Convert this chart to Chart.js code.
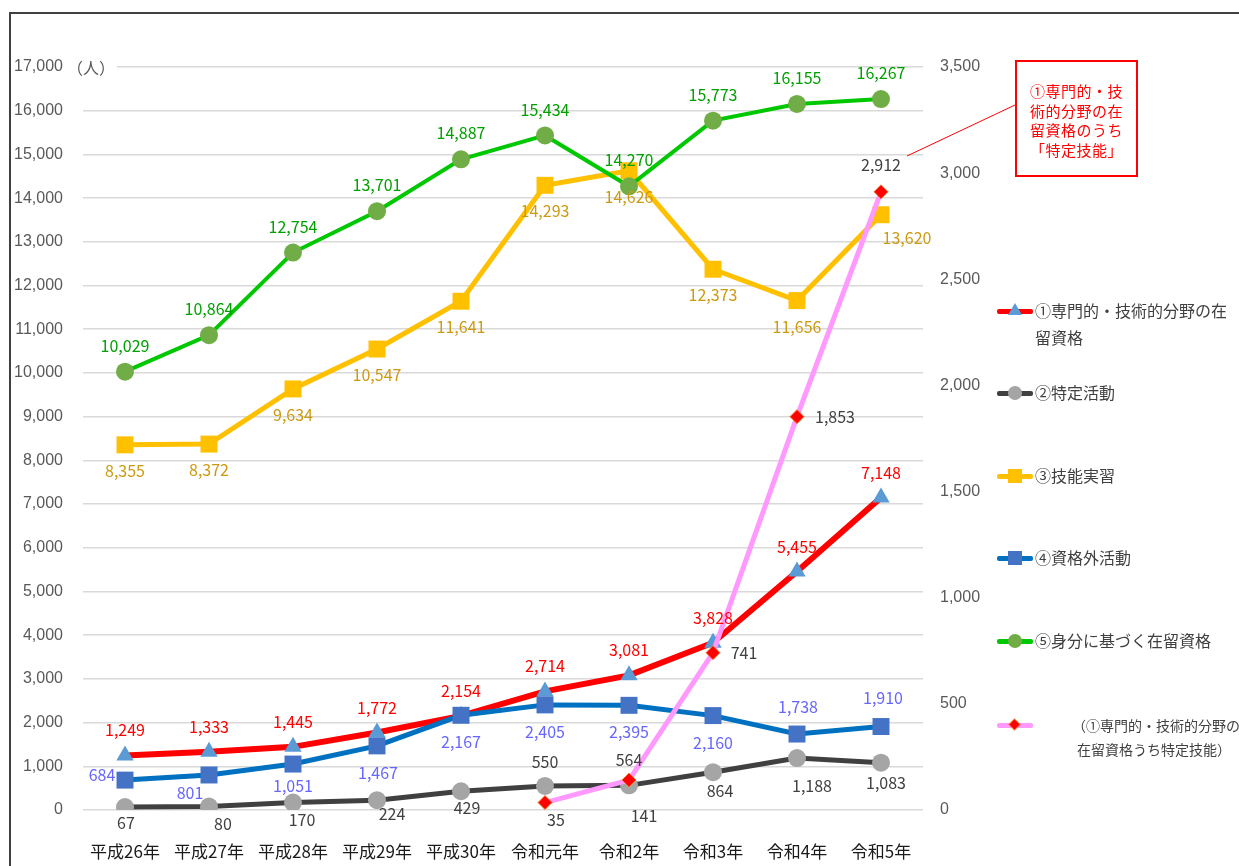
<!DOCTYPE html>
<html><head><meta charset="utf-8">
<script src="https://cdn.jsdelivr.net/npm/chart.js@4"></script>
<style>
html,body{margin:0;padding:0;background:#fff;}
#wrap{position:relative;width:1239px;height:866px;overflow:hidden;background:#fff;}
#frame{position:absolute;left:9px;top:12px;width:1300px;height:900px;border-left:2px solid #404040;border-top:2px solid #404040;}
#c{position:absolute;left:0;top:0;}
#unit{position:absolute;left:67px;top:56px;font:16px "Noto Sans CJK JP";color:#595959;background:#fff;line-height:22px;padding-right:2px;}
.leg{position:absolute;left:997px;font:16px "Noto Sans CJK JP";color:#404040;}
.leg .sw{position:absolute;left:0;width:36px;height:5px;border-radius:2px;}
.leg .mk{position:absolute;}
.leg .tx{position:absolute;left:38px;white-space:pre;line-height:27px;letter-spacing:0px;}
#note{position:absolute;left:1015px;top:60px;width:119px;height:113px;border:2px solid #FF0000;color:#FF0000;font:15px "Noto Sans CJK JP";text-align:center;line-height:19.5px;box-sizing:content-box;}
#note div{padding-top:19px;white-space:pre;letter-spacing:0.5px;}
svg{position:absolute;left:0;top:0;}
</style></head>
<body><div id="wrap">
<div id="frame"></div>
<canvas id="c" width="1239" height="866"></canvas>
<div id="unit">（人）</div>
<svg width="1239" height="866"><line x1="1015" y1="105" x2="907" y2="156" stroke="#FF0000" stroke-width="1"/></svg>
<div id="note"><div id="noteText"></div></div>
<div id="legend"></div>
</div>
<script>
// ---- data ----
const categories = ['平成26年','平成27年','平成28年','平成29年','平成30年','令和元年','令和2年','令和3年','令和4年','令和5年'];
const seriesNames = ['①専門的・技術的分野の在留資格','②特定活動','③技能実習','④資格外活動','⑤身分に基づく在留資格','（①専門的・技術的分野の在留資格うち特定技能）'];
const senmon = [1249,1333,1445,1772,2154,2714,3081,3828,5455,7148];
const tokutei = [67,80,170,224,429,550,564,864,1188,1083];
const ginou = [8355,8372,9634,10547,11641,14293,14626,12373,11656,13620];
const shikakugai = [684,801,1051,1467,2167,2405,2395,2160,1738,1910];
const mibun = [10029,10864,12754,13701,14887,15434,14270,15773,16155,16267];
const tokuteiGinou = [null,null,null,null,null,35,141,741,1853,2912];
const leftTicks = {min:0,max:17000,step:1000};
const rightTicks = {min:0,max:3500,step:500};
const noteText = '①専門的・技\n術的分野の在\n留資格のうち\n「特定技能」';
const unitLabel = '（人）';

// ---- label placement (style, not data) ----
const A = [0,-25], B = [0,26];
const labelPos = [
  Array(10).fill(A),
  [[1,16],[14,17],[9,17],[15,14],[6,17],[0,-24],[0,-25],[7,19],[15,28],[5,20]],
  [B,B,B,B,B,B,B,B,B,[26,23]],
  [[-23,-5],[-19,18],[0,22],[1,27],[0,27],[0,27],[0,27],[0,27],[1,-27],[2,-29]],
  Array(10).fill([0,-26]),
  [null,null,null,null,null,[11,17],[15,36],[31,0],[38,0],[0,-27]]
];
const styles = [
  {line:'#FF0000',pt:'#5B9BD5',ps:'triangle',pr:10,bw:6,lc:'#FF0000',order:6},
  {line:'#404040',pt:'#A5A5A5',ps:'circle',pr:9,bw:5,lc:'#404040',order:5},
  {line:'#FFC000',pt:'#FFC000',ps:'rect',pr:12,bw:5,lc:'#CC9A10',order:4},
  {line:'#0070C0',pt:'#4472C4',ps:'rect',pr:12,bw:5,lc:'#6666FF',order:3},
  {line:'#00C800',pt:'#70AD47',ps:'circle',pr:9,bw:4,lc:'#00A000',order:2},
  {line:'#FF99FF',pt:'#FF0000',ps:'rectRot',pr:7,bw:5,lc:'#404040',order:1,pb:'#ED7D31'}
];
const allSeries = [senmon,tokutei,ginou,shikakugai,mibun,tokuteiGinou];

document.getElementById('noteText').textContent = noteText;
document.getElementById('unit').textContent = unitLabel;

const datasets = allSeries.map((d,i)=>({
  label: seriesNames[i],
  data: d,
  yAxisID: i===5 ? 'y1' : 'y',
  borderColor: styles[i].line,
  backgroundColor: styles[i].pt,
  borderWidth: styles[i].bw,
  pointStyle: styles[i].ps,
  pointRadius: styles[i].pr,
  pointHoverRadius: styles[i].pr,
  pointBackgroundColor: styles[i].pt,
  pointBorderColor: styles[i].pb || styles[i].pt,
  pointBorderWidth: styles[i].pb ? 1 : 0,
  tension: 0,
  spanGaps: false,
  order: styles[i].order,
  labelPos: labelPos[i],
  labelColor: styles[i].lc
}));

const labelPlugin = {
  id:'vlabels',
  afterDatasetsDraw(chart){
    const ctx = chart.ctx;
    chart.data.datasets.forEach((ds,i)=>{
      const meta = chart.getDatasetMeta(i);
      meta.data.forEach((pt,j)=>{
        const v = ds.data[j];
        if(v==null) return;
        const p = ds.labelPos[j] || [0,-25];
        ctx.save();
        ctx.font = '16px "Noto Sans CJK JP"';
        ctx.fillStyle = ds.labelColor;
        ctx.textAlign = 'center';
        ctx.textBaseline = 'middle';
        ctx.fillText(v.toLocaleString('en-US'), pt.x+p[0], pt.y+p[1]);
        ctx.restore();
      });
    });
  }
};

new Chart(document.getElementById('c'), {
  type:'line',
  data:{labels:categories, datasets},
  plugins:[labelPlugin],
  options:{
    responsive:false,
    animation:false,
    layout:{padding:{top:67,left:0,right:0,bottom:0}},
    plugins:{legend:{display:false},tooltip:{enabled:false}},
    scales:{
      x:{
        offset:true,
        grid:{display:false},
        border:{display:false},
        ticks:{autoSkip:false,maxRotation:0,padding:23,color:'#1a1a1a',font:{family:'"Noto Sans CJK JP"',size:17}},
        afterFit(s){s.height=56;}
      },
      y:{
        position:'left',
        min:leftTicks.min,max:leftTicks.max,
        ticks:{stepSize:leftTicks.step,padding:20,color:'#595959',font:{family:'"Liberation Sans"',size:16},
          callback:v=>v.toLocaleString('en-US')},
        grid:{color:'#D9D9D9',lineWidth:1.5,drawTicks:false},
        border:{display:false},
        afterFit(s){s.width=83;}
      },
      y1:{
        position:'right',
        min:rightTicks.min,max:rightTicks.max,
        ticks:{stepSize:rightTicks.step,padding:17,color:'#595959',font:{family:'"Liberation Sans"',size:16},
          callback:v=>v.toLocaleString('en-US')},
        grid:{display:false,drawTicks:false},
        border:{display:false},
        afterFit(s){s.width=316;}
      }
    }
  }
});

// ---- HTML legend ----
const legendTop = [311,393,476,558,641,725];
const legendBreak = [12,null,null,null,null,12];
const leg = document.getElementById('legend');
seriesNames.forEach((name,i)=>{
  const st = styles[i];
  const item = document.createElement('div');
  item.className='leg';
  item.style.top = (legendTop[i]) + 'px';
  const sw = document.createElement('div');
  sw.className='sw'; sw.style.background = st.line; sw.style.top='-2px';
  item.appendChild(sw);
  const mk = document.createElement('div');
  mk.className='mk';
  if(st.ps==='triangle'){
    mk.style.cssText='left:11px;top:-8px;width:0;height:0;border-left:7px solid transparent;border-right:7px solid transparent;border-bottom:12px solid '+st.pt+';';
  } else if(st.ps==='circle'){
    mk.style.cssText='left:11px;top:-7px;width:14px;height:14px;border-radius:50%;background:'+st.pt+';';
  } else if(st.ps==='rect'){
    mk.style.cssText='left:11px;top:-7px;width:14px;height:14px;background:'+st.pt+';';
  } else {
    mk.style.cssText='left:14px;top:-4px;width:7px;height:7px;background:'+st.pt+';transform:rotate(45deg);box-shadow:0 0 0 1px '+st.pb+';';
  }
  item.appendChild(mk);
  const tx = document.createElement('div');
  tx.className='tx';
  const b = legendBreak[i];
  tx.textContent = b ? name.slice(0,b)+'\n'+name.slice(b) : name;
  tx.style.top='-14px';
  if(i===5){ tx.style.left='75px'; tx.style.width='164px'; tx.style.fontSize='14px'; tx.style.lineHeight='24px'; tx.style.top='-12px'; tx.style.textAlign='center'; }
  item.appendChild(tx);
  leg.appendChild(item);
});
</script>
</body></html>
